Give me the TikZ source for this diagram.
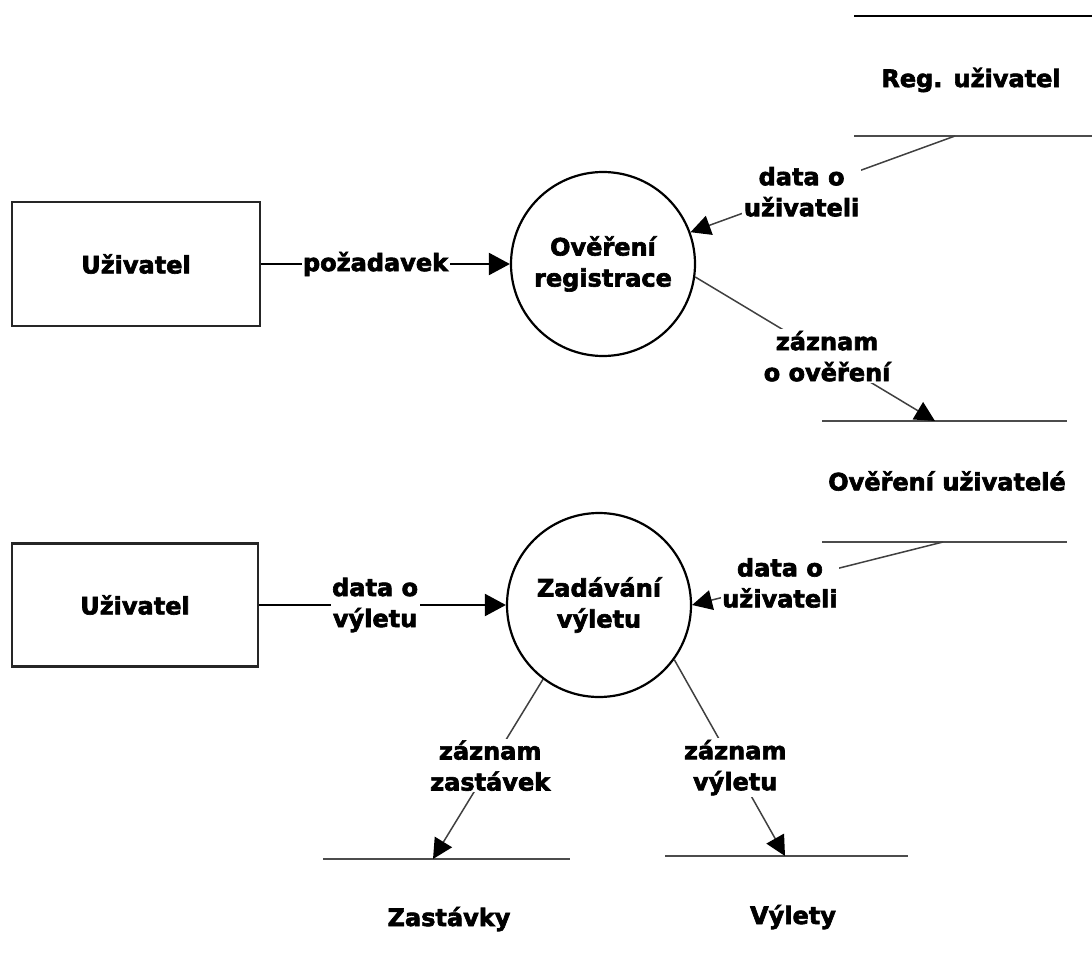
\documentclass[tikz,border=0pt]{standalone}
\usepackage{fontspec}
\setmainfont{DejaVu Sans}[BoldFeatures={FakeBold=2.6}]
\usetikzlibrary{arrows.meta}

\tikzset{
  dfdtext/.style={font=\bfseries\fontsize{24}{31}\selectfont, text=black},
  entity/.style={draw=black!85, line width=2.2pt, rectangle, dfdtext},
  process/.style={draw=black, line width=2.2pt, circle, minimum size=184pt, inner sep=0pt, align=center, dfdtext},
  storeline/.style={draw=black!70, line width=2.2pt},
  storetext/.style={dfdtext, inner sep=0pt},
  flow/.style={draw=black, line width=2.2pt, -{Triangle[length=21pt,width=22pt]}},
  thinflow/.style={draw=black!75, line width=1.5pt, -{Triangle[length=20pt,width=20pt,color=black]}},
  lbl/.style={dfdtext, fill=white, inner sep=1.5pt, align=center}
}

\begin{document}
\begin{tikzpicture}[x=1pt,y=-1pt]
\useasboundingbox (0,0) rectangle (1092,974);

% external entities
\node[entity, minimum width=248pt, minimum height=124pt] (user1) at (136,264) {Uživatel};
\node[entity, minimum width=246pt, minimum height=123pt] (user2) at (135,605) {Uživatel};

% processes
\node[process] (verify) at (603,264) {Ověření\\registrace};
\node[process] (trip) at (599,605) {Zadávání\\výletu};

% data stores (pairs of open lines)
\draw[draw=black, line width=2.8pt] (854,16) -- (1092,16);
\draw[storeline] (854,136) -- (1092,136);
\node[storetext] (regtxt) at (971,80) {Reg. uživatel};

\draw[storeline] (822,421) -- (1067,421);
\draw[storeline] (822,542) -- (1067,542);
\node[storetext] (vertxt) at (947,481) {Ověření uživatelé};

\draw[storeline] (323,859) -- (570,859);
\node[storetext] (stoptxt) at (449,919) {Zastávky};

\draw[storeline] (665,856) -- (908,856);
\node[storetext] (triptxt) at (793,917) {Výlety};

% connection points on the stores
\coordinate (regout) at (955,136);
\coordinate (verin) at (935,421);
\coordinate (verout) at (943,542);
\coordinate (stopin) at (433,859);
\coordinate (tripin) at (785,856);

% data flows
\draw[flow] (user1.east) -- node[lbl, pos=0.46] {požadavek} (verify.west);
\draw[thinflow] (regout) -- node[lbl, pos=0.58] {data o\\uživateli} (verify);
\draw[thinflow] (verify.-8) -- node[lbl, pos=0.55] {záznam\\o ověření} (verin);

\draw[flow] (user2.east) -- node[lbl, pos=0.47] {data o\\výletu} (trip.west);
\draw[thinflow] (verout) -- node[lbl, pos=0.65] {data o\\uživateli} (trip.east);
\draw[thinflow] (trip.-127) -- node[lbl, pos=0.48] {záznam\\zastávek} (stopin);
\draw[thinflow] (trip.-36) -- node[lbl, pos=0.55] {záznam\\výletu} (tripin);
\end{tikzpicture}
\end{document}
